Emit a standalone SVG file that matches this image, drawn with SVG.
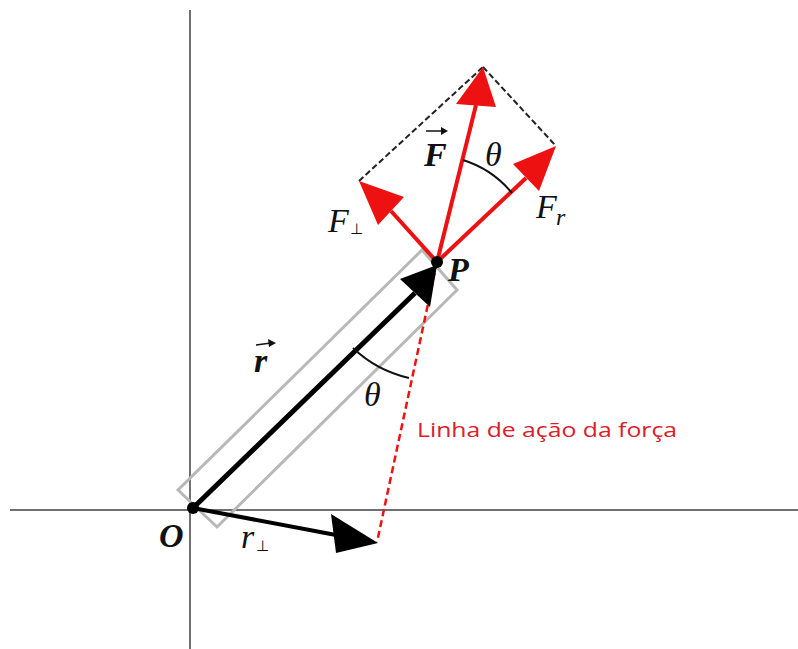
<svg xmlns="http://www.w3.org/2000/svg" width="798" height="649" viewBox="0 0 798 649">
<style>
.axis{stroke:#707070;stroke-width:2;fill:none}
.red{stroke:#ee1111;stroke-width:4;fill:none}
.redh{fill:#ee1111}
.blk{stroke:#000;stroke-width:5;fill:none}
.math{font-family:"Liberation Serif","DejaVu Serif",serif;font-style:italic;font-size:34px;fill:#111}
.bold{font-weight:bold}
.sub{font-family:"DejaVu Sans",sans-serif;font-size:15px;fill:#111}
.arc{stroke:#111;stroke-width:2;fill:none}
</style>
<rect width="798" height="649" fill="#fff"/>
<g id="axes">
<line class="axis" x1="190" y1="10" x2="190" y2="649"/>
<line class="axis" x1="10" y1="510" x2="798" y2="510"/>
</g>
<g id="box"><polygon points="178,490 217,527 457,290 422,250" fill="none" stroke="#b8b8b8" stroke-width="3"/></g>
<g id="connectors">
<line x1="437" y1="262" x2="377" y2="542" stroke="#ee1111" stroke-width="2.5" stroke-dasharray="7,4"/>
<line x1="359" y1="181" x2="483" y2="67" stroke="#222" stroke-width="2" stroke-dasharray="6,3"/>
<line x1="483" y1="67" x2="556" y2="146" stroke="#222" stroke-width="2" stroke-dasharray="6,3"/>
<line class="blk" x1="193" y1="508" x2="415" y2="293"/>
<polygon points="437,265 400,279 430,307" fill="#000"/>
<line x1="193" y1="508" x2="336" y2="535" stroke="#000" stroke-width="4"/>
<polygon points="378,543 331,514 336,553" fill="#000"/>
<line class="red" x1="437" y1="262" x2="476" y2="105"/>
<polygon class="redh" points="483,67 456,104 496,107"/>
<line class="red" x1="437" y1="262" x2="526" y2="178"/>
<polygon class="redh" points="556,146 513,164 539,191"/>
<line class="red" x1="437" y1="262" x2="391" y2="211"/>
<polygon class="redh" points="359,181 404,197 378,225"/>
<path class="arc" d="M353,348 A120,120 0 0 0 409,378"/>
<path class="arc" d="M463,160 A104,104 0 0 1 512,193"/>
</g>
<g id="O"><circle cx="193" cy="508" r="6" fill="#000"/><text class="math bold" x="159" y="547">O</text></g>
<g id="P"><circle cx="437" cy="262" r="6" fill="#000"/><text class="math bold" x="448" y="281">P</text></g>
<g id="labels">
<text class="math bold" x="254" y="372">r</text>
<line x1="256" y1="345" x2="271" y2="343" stroke="#111" stroke-width="1.5"/>
<polygon points="276,343 268,339 269,347" fill="#111"/>
<text class="math" x="364" y="406">θ</text>
<text class="math" x="241" y="548">r</text>
<text class="sub" x="256" y="551">⊥</text>
<text class="math bold" x="424" y="166">F</text>
<line x1="426" y1="131" x2="443" y2="131" stroke="#111" stroke-width="1.5"/>
<polygon points="448,131 441,127 441,135" fill="#111"/>
<text class="math" x="485" y="166">θ</text>
<text class="math" x="328" y="232">F</text>
<text class="sub" x="350" y="234">⊥</text>
<text class="math" x="536" y="218">F</text>
<text class="math" x="556" y="225" style="font-size:24px">r</text>
<text x="417" y="437" font-family="Open Sans,Liberation Sans,sans-serif" font-size="20" fill="#d8202c" textLength="260" lengthAdjust="spacingAndGlyphs">Linha de ação da força</text>
</g>
</svg>
